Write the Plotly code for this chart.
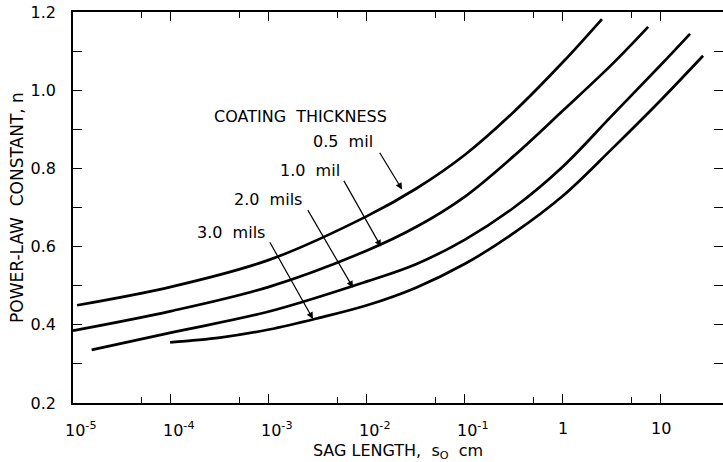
import math
import plotly.graph_objects as go

# Sag length s0 (cm) and power-law constant n for each coating thickness
sag_05 = [1.1e-5, 1e-4, 1e-3, 1e-2, 3.16e-2, 0.1, 0.316, 1.0, 2.5]
n_05 = [0.450, 0.497, 0.566, 0.678, 0.748, 0.835, 0.945, 1.072, 1.182]

sag_10 = [1e-5, 1e-4, 1e-3, 1e-2, 3.16e-2, 0.1, 0.316, 1.0, 3.16, 7.4]
n_10 = [0.385, 0.435, 0.497, 0.590, 0.650, 0.728, 0.832, 0.948, 1.066, 1.162]

sag_20 = [1.55e-5, 1e-4, 1e-3, 1e-2, 3.16e-2, 0.1, 0.316, 1.0, 3.16, 10, 19.8]
n_20 = [0.336, 0.380, 0.434, 0.511, 0.555, 0.618, 0.700, 0.805, 0.935, 1.065, 1.144]

sag_30 = [9.8e-5, 3.16e-4, 1e-3, 3.16e-3, 1e-2, 3.16e-2, 0.1, 0.316, 1.0, 3.16, 10, 26.9]
n_30 = [0.355, 0.367, 0.388, 0.417, 0.450, 0.495, 0.556, 0.635, 0.730, 0.850, 0.975, 1.088]

series = [
    ("0.5 mil", sag_05, n_05),
    ("1.0 mil", sag_10, n_10),
    ("2.0 mils", sag_20, n_20),
    ("3.0 mils", sag_30, n_30),
]

# Axis ticks
x_major = [1e-5, 1e-4, 1e-3, 1e-2, 1e-1, 1, 10]
x_major_text = ["10<sup>-5</sup>", "10<sup>-4</sup>", "10<sup>-3</sup>", "10<sup>-2</sup>",
                "10<sup>-1</sup>", "1", "10"]
x_minor = [5e-5, 5e-4, 5e-3, 5e-2, 5e-1, 5, 50]
y_major = [0.2, 0.4, 0.6, 0.8, 1.0, 1.2]
y_major_text = ["0.2", "0.4", "0.6", "0.8", "1.0", "1.2"]
y_minor = [0.3, 0.5, 0.7, 0.9, 1.1]

# Curve labels: (text, label position, arrow tail, arrow head) as (s0, n)
labels = [
    ("0.5\u00a0\u00a0mil", (5.7e-3, 0.869), (1.32e-2, 0.844), (2.28e-2, 0.746)),
    ("1.0\u00a0\u00a0mil", (2.6e-3, 0.795), (5.7e-3, 0.772), (1.39e-2, 0.600)),
    ("2.0\u00a0\u00a0mils", (9.8e-4, 0.721), (2.44e-3, 0.697), (7.2e-3, 0.495)),
    ("3.0\u00a0\u00a0mils", (4.1e-4, 0.636), (1.0e-3, 0.615), (2.81e-3, 0.415)),
]
heading = ("COATING\u00a0\u00a0THICKNESS", (2.12e-3, 0.933))

FONT = "DejaVu Sans"
X_RANGE = [-5, 1.633]
Y_RANGE = [0.2, 1.2]

fig = go.Figure()
for i, (name, xs, ys) in enumerate(series):
    fig.add_trace(go.Scatter(
        x=xs, y=ys, mode="lines", name=name,
        # last curve goes on the right-hand twin axis (same range) so its ticks render
        yaxis="y2" if i == len(series) - 1 else "y",
        line=dict(color="black", width=2.7, shape="spline", smoothing=1.0),
        showlegend=False, hoverinfo="skip",
    ))

annotations = []
# x tick labels: the "10" base sits on the tick, exponent trailing
for v, t in zip(x_major, x_major_text):
    sup = "<sup>" in t
    annotations.append(dict(
        x=math.log10(v), xref="x", y=0, yref="paper",
        text=t, showarrow=False, yanchor="top", yshift=-14,
        xanchor="left" if sup else "center", xshift=-10 if sup else 0,
        font=dict(family=FONT, size=16, color="black"),
    ))

annotations.append(dict(
    x=math.log10(heading[1][0]), y=heading[1][1], xref="x", yref="y",
    text=heading[0], showarrow=False,
    font=dict(family=FONT, size=16, color="black"),
))
for text, pos, tail, head in labels:
    annotations.append(dict(
        x=math.log10(pos[0]), y=pos[1], xref="x", yref="y",
        text=text, showarrow=False,
        font=dict(family=FONT, size=16, color="black"),
    ))
    annotations.append(dict(
        x=math.log10(head[0]), y=head[1], xref="x", yref="y",
        ax=math.log10(tail[0]), ay=tail[1], axref="x", ayref="y",
        text="", showarrow=True, arrowhead=2, arrowsize=1.1,
        arrowwidth=1.2, arrowcolor="black",
    ))

fig.update_layout(
    width=723, height=462,
    margin=dict(l=73, r=0, t=12, b=59),
    paper_bgcolor="white", plot_bgcolor="white",
    font=dict(family=FONT, size=16, color="black"),
    annotations=annotations,
    xaxis=dict(
        type="log", range=X_RANGE,
        tickmode="array", tickvals=x_major, showticklabels=False,
        ticks="inside", ticklen=9, tickwidth=1.3, tickcolor="black",
        minor=dict(tickmode="array", tickvals=x_minor, ticks="inside",
                   ticklen=6, tickwidth=1.3, tickcolor="black", showgrid=False),
        showline=True, linecolor="black", linewidth=1.6, mirror="ticks",
        showgrid=False, zeroline=False,
        title=dict(text="SAG\u00a0LENGTH,\u00a0\u00a0s<sub>O</sub>\u00a0\u00a0cm",
                   font=dict(family=FONT, size=16), standoff=41),
    ),
    yaxis=dict(
        range=Y_RANGE,
        tickmode="array", tickvals=y_major, ticktext=y_major_text,
        ticks="inside", ticklen=9, tickwidth=1.3, tickcolor="black",
        ticklabelstandoff=12,
        tickfont=dict(family=FONT, size=16),
        minor=dict(tickmode="array", tickvals=y_minor, ticks="inside",
                   ticklen=9, tickwidth=1.3, tickcolor="black", showgrid=False),
        showline=True, linecolor="black", linewidth=1.6, mirror=False,
        showgrid=False, zeroline=False,
        title=dict(text="POWER-LAW\u00a0\u00a0CONSTANT,\u00a0n",
                   font=dict(family=FONT, size=17), standoff=3),
    ),
    yaxis2=dict(
        overlaying="y", side="right", anchor="x", range=Y_RANGE,
        tickmode="array", tickvals=y_major, showticklabels=False,
        ticks="inside", ticklen=9, tickwidth=1.3, tickcolor="black",
        minor=dict(tickmode="array", tickvals=y_minor, ticks="inside",
                   ticklen=9, tickwidth=1.3, tickcolor="black", showgrid=False),
        showline=False, showgrid=False, zeroline=False,
    ),
)

fig.write_html("out.html")
